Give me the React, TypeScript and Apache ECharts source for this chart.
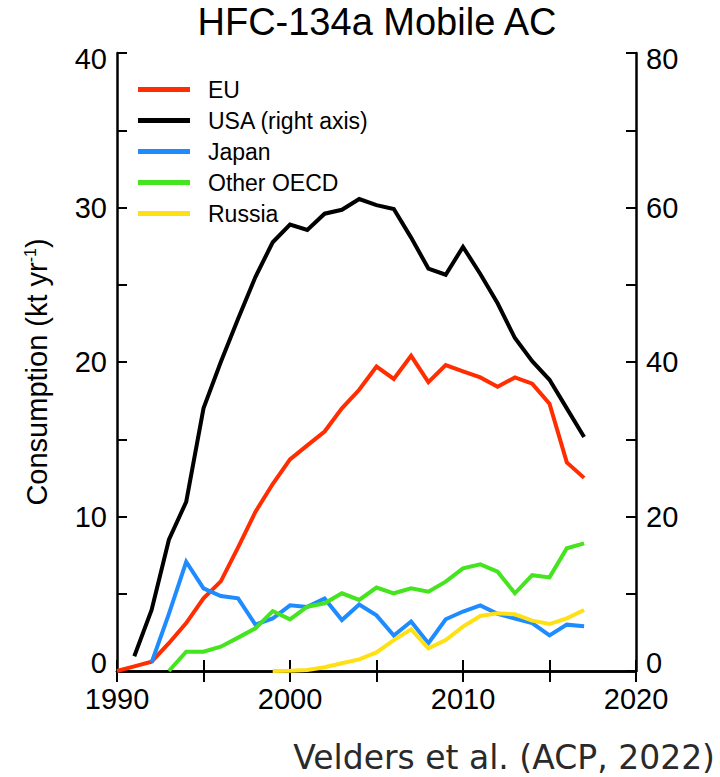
import React, { useEffect, useRef } from "react";
import * as echarts from "echarts";

// ---- data ----
const euStartYear = 1990;
const euValues = [0, 0.3, 0.6, 1.8, 3.1, 4.7, 5.8, 8.0, 10.3, 12.1, 13.7, 14.6, 15.5, 17.0, 18.2, 19.7, 18.9, 20.4, 18.7, 19.8, 19.4, 19.0, 18.4, 19.0, 18.6, 17.3, 13.5, 12.5];

const usaStartYear = 1991; // right axis
const usaValues = [1.9, 7.9, 17.0, 21.9, 34.0, 40.0, 45.6, 51.0, 55.5, 57.8, 57.1, 59.2, 59.7, 61.1, 60.3, 59.8, 56.1, 52.1, 51.3, 54.9, 51.4, 47.6, 43.1, 40.1, 37.7, 34.0, 30.3];

const japanStartYear = 1992;
const japanValues = [0.55, 3.7, 7.07, 5.35, 4.85, 4.7, 3.0, 3.4, 4.25, 4.15, 4.7, 3.3, 4.3, 3.6, 2.3, 3.2, 1.8, 3.35, 3.85, 4.25, 3.7, 3.4, 3.1, 2.3, 3.0, 2.9];

const oecdStartYear = 1993;
const oecdValues = [0, 1.25, 1.25, 1.57, 2.16, 2.76, 3.88, 3.34, 4.16, 4.38, 5.03, 4.6, 5.4, 5.03, 5.35, 5.13, 5.78, 6.64, 6.9, 6.43, 5.03, 6.2, 6.06, 7.94, 8.26];

const russiaStartYear = 1999;
const russiaValues = [0, 0.02, 0.07, 0.24, 0.5, 0.75, 1.2, 2.0, 2.7, 1.47, 2.0, 2.87, 3.56, 3.73, 3.67, 3.26, 3.04, 3.41, 3.95];

const seriesNames = ["EU", "USA (right axis)", "Japan", "Other OECD", "Russia"];
const seriesColors = ["#ff2d00", "#000000", "#1e8cff", "#44e41e", "#ffe014"];

const titleText = "HFC-134a Mobile AC";
const yAxisTitle = "Consumption (kt yr{sup|-1})";
const captionText = "Velders et al. (ACP, 2022)";

const xMin = 1990;
const xMax = 2020;
const leftMax = 40;
const rightMax = 80;

const toPairs = (start: number, vals: number[]) => vals.map((v, i) => [start + i, v]);

const FONT = "'Liberation Sans', Arial, Helvetica, sans-serif";

export default function App() {
  const ref = useRef<HTMLDivElement>(null);

  useEffect(() => {
    if (!ref.current) return;
    const chart = echarts.init(ref.current, undefined, { renderer: "svg" });

    const labelRich = {
      hi: { fontSize: 29, fontFamily: FONT, color: "#000", padding: [11, 0, 0, 0] },
      lo: { fontSize: 29, fontFamily: FONT, color: "#000", padding: [0, 0, 16, 0] },
    };

    const axisLineStyle = { color: "#000", width: 2.5 };
    const tickStyle = { color: "#000", width: 2 };

    const dataSets = [
      { name: seriesNames[0], data: toPairs(euStartYear, euValues), axis: 0 },
      { name: seriesNames[1], data: toPairs(usaStartYear, usaValues), axis: 1 },
      { name: seriesNames[2], data: toPairs(japanStartYear, japanValues), axis: 0 },
      { name: seriesNames[3], data: toPairs(oecdStartYear, oecdValues), axis: 0 },
      { name: seriesNames[4], data: toPairs(russiaStartYear, russiaValues), axis: 0 },
    ];

    chart.setOption({
      animation: false,
      backgroundColor: "#ffffff",
      grid: { left: 117, right: 84, top: 53, bottom: 106, containLabel: false },
      legend: {
        orient: "vertical",
        left: 138,
        top: 78,
        padding: 0,
        itemWidth: 52,
        itemHeight: 5,
        itemGap: 8,
        icon: "rect",
        data: seriesNames,
        textStyle: { fontSize: 23, fontFamily: FONT, color: "#000", padding: [0, 0, 0, 13] },
      },
      xAxis: [
        {
          type: "value",
          min: xMin,
          max: xMax,
          interval: 5,
          position: "bottom",
          axisLine: { show: true, lineStyle: axisLineStyle },
          axisTick: { show: true, inside: true, length: 11, lineStyle: tickStyle },
          axisLabel: {
            formatter: (v: number) => (v % 10 === 0 ? String(v) : ""),
            fontSize: 29,
            fontFamily: FONT,
            color: "#000",
            margin: 13,
          },
          splitLine: { show: false },
        },
        {
          type: "value",
          min: xMin,
          max: xMax,
          interval: 5,
          position: "top",
          axisLine: { show: true, lineStyle: axisLineStyle },
          axisTick: { show: true, inside: true, length: 11, lineStyle: tickStyle },
          axisLabel: { show: false },
          splitLine: { show: false },
        },
      ],
      yAxis: [
        {
          type: "value",
          min: 0,
          max: leftMax,
          interval: 5,
          position: "left",
          axisLine: { show: true, lineStyle: axisLineStyle },
          axisTick: { show: true, inside: true, length: 10, lineStyle: tickStyle },
          axisLabel: {
            formatter: (v: number) =>
              v % 10 !== 0 ? "" : v === leftMax ? `{hi|${v}}` : v === 0 ? `{lo|${v}}` : String(v),
            fontSize: 29,
            fontFamily: FONT,
            color: "#000",
            margin: 10,
            rich: labelRich,
          },
          splitLine: { show: false },
        },
        {
          type: "value",
          min: 0,
          max: rightMax,
          interval: 10,
          position: "right",
          axisLine: { show: true, lineStyle: axisLineStyle },
          axisTick: { show: true, inside: true, length: 10, lineStyle: tickStyle },
          axisLabel: {
            formatter: (v: number) =>
              v % 20 !== 0 ? "" : v === rightMax ? `{hi|${v}}` : v === 0 ? `{lo|${v}}` : String(v),
            fontSize: 29,
            fontFamily: FONT,
            color: "#000",
            margin: 10,
            rich: labelRich,
          },
          splitLine: { show: false },
        },
      ],
      series: dataSets.map((d, i) => ({
        name: d.name,
        type: "line",
        xAxisIndex: 0,
        yAxisIndex: d.axis,
        data: d.data,
        showSymbol: false,
        symbol: "none",
        color: seriesColors[i],
        itemStyle: { color: seriesColors[i] },
        lineStyle: { width: 4, color: seriesColors[i], join: "miter" },
        z: 2 + i,
      })),
      graphic: [
        {
          type: "text",
          x: 377,
          y: 22,
          style: {
            text: titleText,
            fontSize: 38,
            fontFamily: FONT,
            fill: "#000",
            align: "center",
            verticalAlign: "middle",
          },
        },
        {
          type: "text",
          x: 37,
          y: 372,
          rotation: Math.PI / 2,
          style: {
            text: yAxisTitle,
            fontSize: 29,
            fontFamily: FONT,
            fill: "#000",
            align: "center",
            verticalAlign: "middle",
            rich: {
              sup: { fontSize: 16, fontFamily: FONT, fill: "#000", verticalAlign: "top" },
            },
          },
        },
        {
          type: "text",
          x: 715,
          y: 757,
          style: {
            text: captionText,
            fontSize: 33,
            fontFamily: "'DejaVu Sans', Verdana, sans-serif",
            fill: "#2a2a2a",
            align: "right",
            verticalAlign: "middle",
          },
        },
      ],
    });

    return () => chart.dispose();
  }, []);

  return (
    <div
      ref={ref}
      style={{ position: "absolute", left: 0, top: 0, width: 720, height: 777, background: "#fff" }}
    />
  );
}
